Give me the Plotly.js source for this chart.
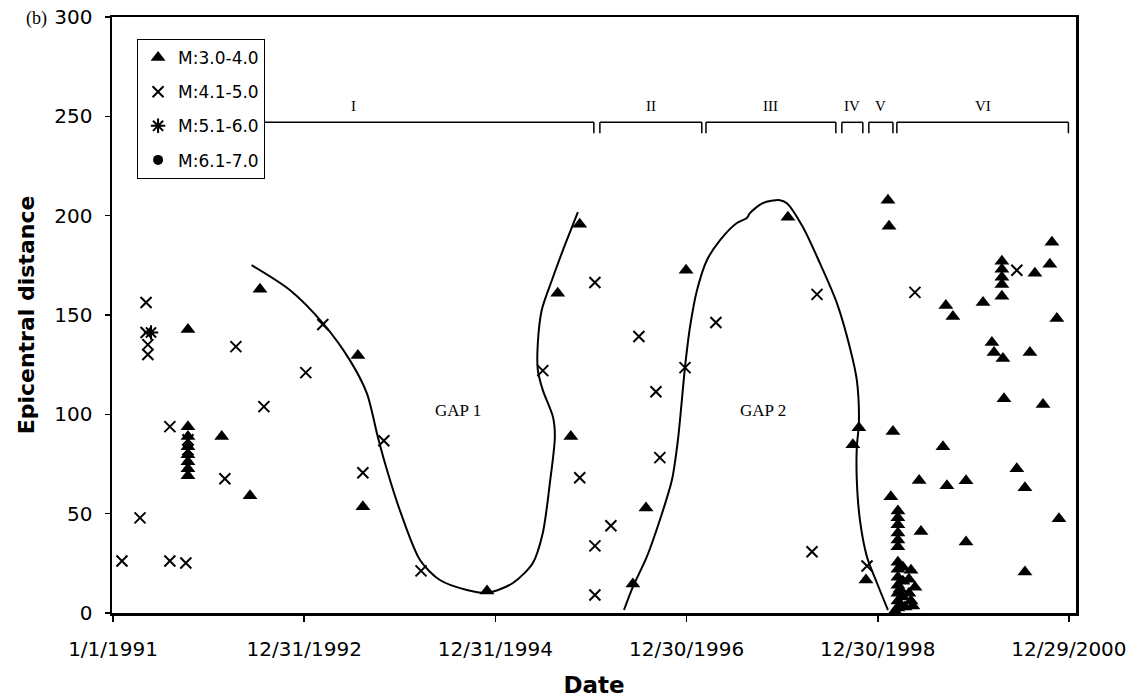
<!DOCTYPE html>
<html>
<head>
<meta charset="utf-8">
<script src="https://cdn.plot.ly/plotly-3.0.1.min.js"></script>
<style>
  html, body { margin: 0; padding: 0; background: #ffffff; }
  #chart { width: 1138px; height: 698px; }
</style>
</head>
<body>
<div id="chart"></div>
<script>
// ---------- DATA ----------
// M:3.0-4.0 (triangles)
const triDates = [
  '1991-10-14','1991-10-14','1991-10-14','1991-10-14','1991-10-14','1991-10-14','1991-10-14','1991-10-14',
  '1992-02-20','1992-06-07','1992-07-15','1993-07-24','1993-08-12','1994-11-29',
  '1995-08-26','1995-10-15','1995-11-18','1996-06-08','1996-07-28','1996-12-28',
  '1998-01-21','1998-10-19','1998-09-26','1998-11-15',
  '1999-02-07','1999-02-11','1999-02-26','1999-02-18',
  '1999-03-17','1999-03-17','1999-03-17','1999-03-17','1999-03-17','1999-03-17',
  '1999-06-06','1999-06-13',
  '1999-03-06','1999-03-17','1999-03-17','1999-03-17','1999-03-17','1999-03-17','1999-03-17','1999-03-17',
  '1999-03-25','1999-03-25','1999-04-05','1999-04-05','1999-04-05','1999-04-13','1999-04-28','1999-05-06',
  '1999-05-21','1999-05-13','1999-04-28','1999-05-06',
  '1999-09-05','1999-09-16','1999-09-20','1999-10-13','1999-12-02','1999-12-02',
  '2000-02-05','2000-03-10','2000-03-18','2000-04-21',
  '2000-04-17','2000-04-17','2000-04-17','2000-04-17','2000-04-17',
  '2000-04-25','2000-06-13','2000-07-14','2000-07-14','2000-08-02','2000-08-21','2000-09-21',
  '2000-10-17','2000-10-25','2000-11-13','2000-11-21'
];
const triDist = [
  142.7,93.8,88.8,83.7,79.7,76.1,72.6,69.1,
  88.8,59,162.9,129.6,53.5,11.1,
  160.9,88.8,195.7,14.6,52.9,172.5,
  199.2,93.3,84.7,16.6,
  207.8,194.7,91.3,58.5,
  51.4,47.9,44.4,40.3,36.8,33.3,
  66.7,41,
  1,2.5,6,10,14,18,22,25.5,
  4,12,8,16,23,3,10,21.5,
  13,3.5,17,6,
  83.7,154.8,64,149.3,66.6,35.8,
  156.3,136.2,131.1,128.1,
  177,173,169,165.4,159.4,
  107.9,72.6,63,20.7,131.1,171,104.9,
  175.5,186.6,148.3,47.4
];

// M:4.1-5.0 (crosses)
const crossDates = [
  '1991-02-04','1991-04-14','1991-05-07','1991-05-07','1991-05-14','1991-05-14','1991-08-06','1991-08-06',
  '1991-10-06','1991-10-14','1991-10-14','1992-03-03','1992-04-14','1992-07-30',
  '1993-01-06','1993-03-12','1993-08-12','1993-10-31','1994-03-22','1995-06-30',
  '1996-01-15','1995-11-18','1996-01-15','1996-01-15','1996-03-16','1996-07-01','1996-09-04','1996-09-19',
  '1996-12-24','1997-04-21','1998-04-23','1998-05-12','1998-11-19','1999-05-21','2000-06-13'
];
const crossDist = [
  26.2,47.9,156.3,141.2,135.1,130.1,93.8,26.2,
  25.2,87.2,82.2,67.6,134.1,103.9,
  121,145.2,70.6,86.7,21.2,122,
  166.4,68.1,33.8,9.1,43.9,139.2,111.4,78.2,
  123.5,146.2,30.8,160.4,23.7,161.4,172.5
];

// M:5.1-6.0 (asterisk)
const starDates = ['1991-05-26'];
const starDist = [141.2];

// M:6.1-7.0 (dots) - no event plotted
const dotDates = [null];
const dotDist = [null];

// Gap outlines
const gap1Dates = [
  '1992-06-13','1992-11-06','1993-03-12','1993-06-23','1993-08-27','1993-10-08','1993-11-12','1993-12-31',
  '1994-03-18','1994-06-02','1994-09-13','1994-12-02','1995-03-08','1995-05-23','1995-06-30','1995-07-27',
  '1995-08-15','1995-08-08','1995-06-30','1995-06-11','1995-06-11','1995-06-26','1995-08-04','1995-09-15','1995-11-11'
];
const gap1Dist = [
  175.1,162.6,145.9,127.3,110.7,88.6,72,51.8,
  26.7,16.6,11.6,10.2,15.1,25.2,40.3,65.4,
  88.6,98.6,112.2,122.3,135.9,152.5,167.6,182.7,201.8
];
const gap2Dates = [
  '1996-05-05','1996-06-08','1996-07-31','1996-09-19','1996-11-04','1996-11-27','1996-12-12','1996-12-24',
  '1997-01-12','1997-02-08','1997-03-18','1997-05-07','1997-07-10','1997-08-17','1997-08-29','1997-10-17',
  '1997-12-21','1998-01-17','1998-03-19','1998-05-23','1998-07-27','1998-09-14','1998-10-11','1998-10-19',
  '1998-10-11','1998-10-11','1998-10-23','1998-11-19','1998-12-27','1999-02-07'
];
const gap2Dist = [
  1.5,13.1,28.2,46.8,66.9,87.1,107.2,123.8,
  143.9,162.6,177.7,187.7,196.3,198.8,201.3,206.3,
  207.8,206.3,194.3,176.1,156,133.9,117.3,95.6,
  83.5,66.9,46.8,28.2,15.1,1.5
];
const gapNames = ['GAP 1','GAP 2'];
const gapLabelDates = ['1994-08-10','1997-10-17'];
const gapLabelDist = [102,101.7];

// Periods (brackets on top)
const periodNames = ['I','II','III','IV','V','VI'];
const periodStart = ['1991-01-01','1996-02-03','1997-03-14','1998-08-15','1998-11-26','1999-03-13'];
const periodEnd   = ['1996-01-11','1997-02-26','1998-07-23','1998-11-03','1999-02-26','2000-12-27'];

// Axis ticks
const xTickDates = ['1991-01-01','1992-12-31','1994-12-31','1996-12-30','1998-12-30','2000-12-29'];
const xTickLabels = ['1/1/1991','12/31/1992','12/31/1994','12/30/1996','12/30/1998','12/29/2000'];
const yTicks = [0,50,100,150,200,250,300];

// ---------- DRAWING ----------
const serif = 'Liberation Serif, Times New Roman, serif';
const sans = 'DejaVu Sans, Arial, sans-serif';

const traces = [
  {x: triDates, y: triDist, name: 'M:3.0-4.0', type: 'scatter', mode: 'markers',
   legendgroup: 'a',
   marker: {symbol: 'triangle-up', size: 13, color: '#000'}},
  {x: crossDates, y: crossDist, name: 'M:4.1-5.0', type: 'scatter', mode: 'markers',
   legendgroup: 'b',
   marker: {symbol: 'x-thin-open', size: 11, color: '#000', line: {width: 2, color: '#000'}}},
  {x: starDates, y: starDist, name: 'M:5.1-6.0', type: 'scatter', mode: 'markers',
   legendgroup: 'c',
   marker: {symbol: 'asterisk-open', size: 12, color: '#000', line: {width: 2, color: '#000'}}},
  {x: dotDates, y: dotDist, name: 'M:6.1-7.0', type: 'scatter', mode: 'markers',
   legendgroup: 'd',
   marker: {symbol: 'circle', size: 10, color: '#000'}},
  {x: gap1Dates, y: gap1Dist, type: 'scatter', mode: 'lines', showlegend: false, hoverinfo: 'skip',
   line: {color: '#000', width: 2, shape: 'spline', smoothing: 0.8}},
  {x: gap2Dates, y: gap2Dist, type: 'scatter', mode: 'lines', showlegend: false, hoverinfo: 'skip',
   line: {color: '#000', width: 2, shape: 'spline', smoothing: 0.8}}
];

const bracketY = 247, bracketTick = 241.5, labelY = 255;
const shapes = [];
const annotations = [];
function midDate(a, b) {
  const ta = new Date(a + 'T00:00:00Z').getTime(), tb = new Date(b + 'T00:00:00Z').getTime();
  return new Date((ta + tb) / 2).toISOString().slice(0, 10);
}
periodNames.forEach((nm, i) => {
  const lineStart = i === 0 ? '1992-06-10' : periodStart[i];
  shapes.push({type: 'line', xref: 'x', yref: 'y', x0: lineStart, x1: periodEnd[i], y0: bracketY, y1: bracketY,
               line: {color: '#000', width: 1.5}});
  if (i > 0) {
    shapes.push({type: 'line', xref: 'x', yref: 'y', x0: periodStart[i], x1: periodStart[i], y0: bracketY, y1: bracketTick,
                 line: {color: '#000', width: 1.5}});
  }
  shapes.push({type: 'line', xref: 'x', yref: 'y', x0: periodEnd[i], x1: periodEnd[i], y0: bracketY, y1: bracketTick,
               line: {color: '#000', width: 1.5}});
  annotations.push({x: midDate(periodStart[i], periodEnd[i]), y: labelY, xref: 'x', yref: 'y', text: nm,
                    showarrow: false, font: {family: serif, size: 15, color: '#000'}});
});
gapNames.forEach((g, i) => {
  annotations.push({x: gapLabelDates[i], y: gapLabelDist[i], xref: 'x', yref: 'y', text: g, showarrow: false,
                    font: {family: serif, size: 17, color: '#000'}});
});
annotations.push({x: -0.078, y: 0.998, xref: 'paper', yref: 'paper', xanchor: 'center', yanchor: 'middle',
                  text: '(b)', showarrow: false, font: {family: serif, size: 18, color: '#000'}});

const layout = {
  width: 1138, height: 698,
  margin: {l: 112, r: 62, t: 17, b: 85},
  paper_bgcolor: '#fff', plot_bgcolor: '#fff',
  showlegend: true,
  legend: {
    x: 0.026, y: 0.963, xanchor: 'left', yanchor: 'top',
    bgcolor: '#fff', bordercolor: '#000', borderwidth: 1,
    font: {family: sans, size: 17, color: '#000'},
    traceorder: 'grouped', tracegroupgap: 9, itemwidth: 30
  },
  xaxis: {
    type: 'date', range: ['1990-12-28', '2001-01-25'],
    tickvals: xTickDates, ticktext: xTickLabels,
    ticks: 'outside', ticklen: 6, tickwidth: 1.5, tickcolor: '#000',
    showline: true, linecolor: '#000', linewidth: 2.5, mirror: true,
    showgrid: false, zeroline: false,
    tickfont: {family: sans, size: 20, color: '#000'},
    ticklabelstandoff: 10,
    title: {text: '<b>Date</b>', font: {family: sans, size: 23, color: '#000'}, standoff: 18}
  },
  yaxis: {
    range: [0, 300], tickvals: yTicks,
    ticks: 'outside', ticklen: 5, tickwidth: 1.5, tickcolor: '#000',
    showline: true, linecolor: '#000', linewidth: 2.5, mirror: true,
    showgrid: false, zeroline: false,
    tickfont: {family: sans, size: 20, color: '#000'},
    ticklabelstandoff: 8,
    title: {text: '<b>Epicentral distance</b>', font: {family: sans, size: 22, color: '#000'}, standoff: 14}
  },
  shapes: shapes,
  annotations: annotations
};

Plotly.newPlot('chart', traces, layout, {displayModeBar: false, staticPlot: true});
</script>
</body>
</html>
